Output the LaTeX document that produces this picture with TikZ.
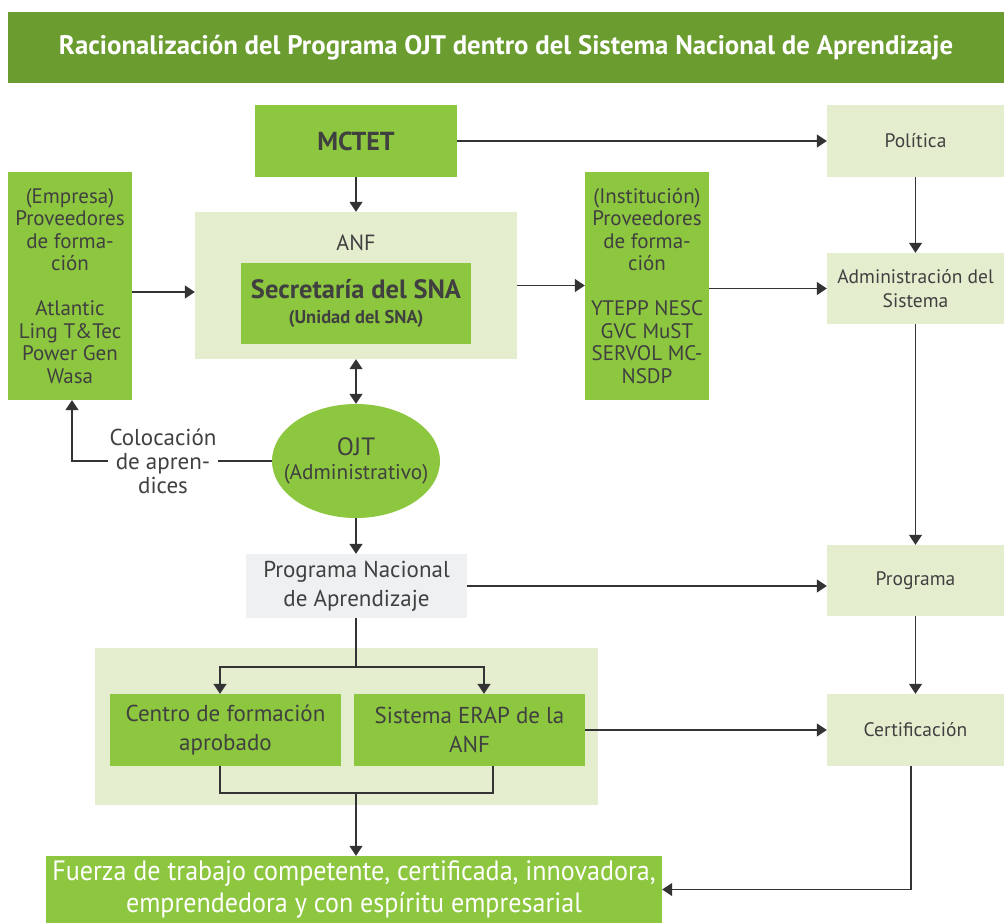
\documentclass[tikz,border=0pt]{standalone}
\usepackage{fontspec}
\setmainfont{PT Sans}
\newfontfamily\condfont[FakeStretch=0.93]{PT Sans}
\usetikzlibrary{arrows.meta,shapes.geometric,calc}
\definecolor{tgreen}{HTML}{6A9C30}
\definecolor{bgreen}{HTML}{8DC63F}
\definecolor{lgreen}{HTML}{E4EECF}
\definecolor{pgray}{HTML}{EEF0F2}
\definecolor{txt}{HTML}{404040}
\definecolor{ln}{HTML}{333333}
\tikzset{
  box/.style={rectangle, inner sep=0pt, align=center, text=txt, font=\fontsize{21}{22.5}\selectfont},
  bright/.style={box, fill=bgreen},
  light/.style={box, fill=lgreen},
  rbox/.style={light, minimum width=177pt, font=\fontsize{19.5}{24}\selectfont},
  conn/.style={draw=ln, line width=1.1pt},
  arr/.style={conn, -{Triangle[width=13pt,length=10pt]}},
  darr/.style={conn, {Triangle[width=13pt,length=10pt]}-{Triangle[width=13pt,length=10pt]}},
}
\begin{document}
\begin{tikzpicture}[x=1pt,y=-1pt]
\useasboundingbox (0,0) rectangle (1004,923);
% title
\node[rectangle, fill=tgreen, minimum width=996pt, minimum height=71pt, inner sep=0pt,
  text=white, font=\bfseries\fontsize{26.8}{30}\selectfont] (title) at (506,47.5)
  {Racionalización del Programa OJT dentro del Sistema Nacional de Aprendizaje};
% nodes
\node[bright, minimum width=202pt, minimum height=72pt, font=\bfseries\fontsize{26}{28}\selectfont] (mctet) at (356,141) {MCTET};
\node[light, minimum width=322pt, minimum height=147pt] (anf) at (356,285.5) {};
\node[box, font=\fontsize{22}{24}\selectfont] (anflabel) at (356,243) {ANF};
\node[bright, minimum width=230pt, minimum height=81pt] (secr) at (356,303.5)
  {{\bfseries\fontsize{26.5}{28}\selectfont Secretaría del SNA}\\[3pt]{\bfseries\fontsize{18.5}{20}\selectfont (Unidad del SNA)}};
\node[bright, minimum width=124pt, minimum height=228pt] (emp) at (70,286)
  {(Empresa)\\Proveedores\\de forma-\\ción\\[22.5pt]Atlantic\\Ling T\&Tec\\Power Gen\\Wasa};
\node[bright, minimum width=124pt, minimum height=228pt] (inst) at (647,286)
  {(Institución)\\Proveedores\\de forma-\\ción\\[22.5pt]YTEPP NESC\\GVC MuST\\SERVOL MC-\\NSDP};
\node[rbox, minimum height=72pt] (pol) at (915.5,141) {Política};
\node[rbox, minimum height=71pt] (adm) at (915.5,288.5) {Administración del\\Sistema};
\node[rbox, minimum height=71pt] (prog) at (915.5,580.5) {Programa};
\node[rbox, minimum height=72pt] (cert) at (915.5,730) {Certificación};
\node[ellipse, fill=bgreen, minimum width=168pt, minimum height=114pt, inner sep=0pt] (ojt) at (356,461) {};
\node[box, font=\fontsize{21.3}{24}\selectfont] (ojttext) at (ojt.center) {{\fontsize{25}{26}\selectfont OJT}\\(Administrativo)};
\node[box, fill=pgray, minimum width=221pt, minimum height=64pt, font=\fontsize{23}{29}\selectfont] (pna) at (356.5,586) {Programa Nacional\\de Aprendizaje};
\node[light, minimum width=503pt, minimum height=157pt] (bot) at (346.5,726.5) {};
\node[bright, minimum width=231pt, minimum height=72pt, font=\fontsize{23}{29}\selectfont] (centro) at (225.5,730) {Centro de formación\\aprobado};
\node[bright, minimum width=231pt, minimum height=72pt, font=\fontsize{23}{29}\selectfont] (erap) at (469.5,730) {Sistema ERAP de la\\ANF};
\node[bright, minimum width=616pt, minimum height=67pt, text=white, font=\condfont\fontsize{28}{32}\selectfont] (fuerza) at (354,889.5)
  {Fuerza de trabajo competente, certificada, innovadora,\\emprendedora y con espíritu empresarial};
\node[box, inner sep=1.5pt, font=\fontsize{23}{24}\selectfont] (col) at (163,461) {Colocación\\de apren-\\dices};
% connectors
\draw[arr] (mctet.east) -- (pol.west);
\draw[arr] (mctet.south) -- (anf.north);
\draw[arr] ([yshift=-6pt]emp.east) -- ([yshift=-6pt]emp.east -| anf.west);
\draw[arr] (anf.east) -- (anf.east -| inst.west);
\draw[arr] (inst.east |- adm.west) -- (adm.west);
\draw[arr] (pol.south) -- (adm.north);
\draw[arr] (adm.south) -- (prog.north);
\draw[arr] (prog.south) -- (cert.north);
\draw[arr] ([xshift=-4.5pt]cert.south) |- (fuerza.east);
\draw[darr] (anf.south) -- (ojt.north);
\draw[conn] (ojt.west) -- (col.east |- ojt.west);
\draw[arr] (col.west |- ojt.west) -| ([xshift=2pt]emp.south);
\draw[arr] (ojt.south) -- (pna.north -| ojt.south);
\draw[arr] (pna.east) -- (pna.east -| prog.west);
\coordinate (sp) at (356,667);
\coordinate (mg) at (356,793);
\draw[conn] (pna.south -| sp) -- (sp);
\draw[arr] (sp) -| ([xshift=-5.5pt]centro.north);
\draw[arr] (sp) -| ([xshift=14.5pt]erap.north);
\draw[conn] ([xshift=-5.5pt]centro.south) |- ([xshift=23.5pt]erap.south |- mg) -- ([xshift=23.5pt]erap.south);
\draw[arr] (mg) -- (mg |- fuerza.north);
\draw[arr] (erap.east) -- (erap.east -| cert.west);
\end{tikzpicture}
\end{document}
